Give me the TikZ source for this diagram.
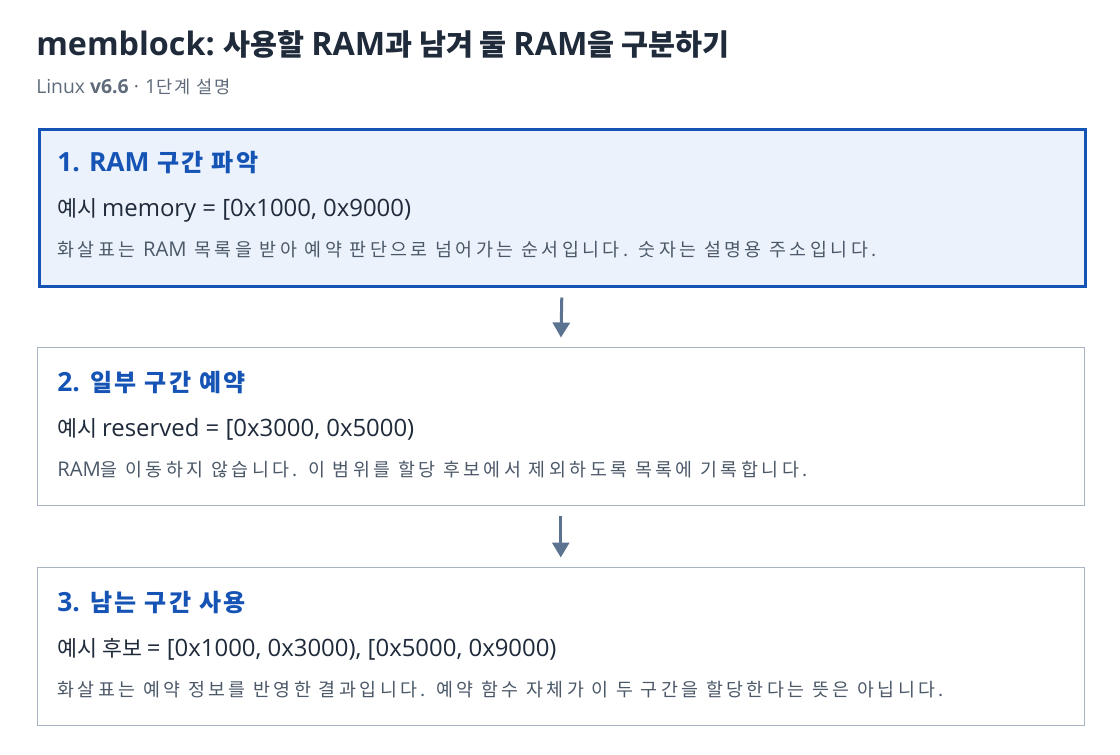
\documentclass[tikz,border=0pt]{standalone}
\usepackage{fontspec}
\setmainfont{Noto Sans CJK KR}
\newfontfamily\enfont{Open Sans}[Scale=1.1]
\newcommand{\en}[1]{{\enfont #1}}
\usetikzlibrary{arrows.meta}

\definecolor{inkdark}{HTML}{1F2A3A}
\definecolor{inkgray}{HTML}{5F6B7A}
\definecolor{inkdesc}{HTML}{4B5868}
\definecolor{stepblue}{HTML}{1553B5}
\definecolor{stepfill}{HTML}{EBF2FC}
\definecolor{cardline}{HTML}{A9B4C2}
\definecolor{flowline}{HTML}{5B7390}

\tikzset{
  card/.style={draw=cardline, line width=0.75pt, fill=white, anchor=north west,
    minimum width=1047.5*0.75pt, minimum height=158.5*0.75pt, inner sep=0pt},
  activecard/.style={card, draw=stepblue, fill=stepfill, line width=2.25pt,
    minimum width=1046*0.75pt, minimum height=157*0.75pt},
  steptitle/.style={anchor=base west, inner sep=0pt, text=stepblue,
    font=\fontsize{18}{21}\selectfont\bfseries\addfontfeatures{LetterSpace=10}},
  example/.style={anchor=base west, inner sep=0pt, text=inkdark,
    font=\fontsize{16.3}{19}\selectfont},
  note/.style={anchor=base west, inner sep=0pt, text=inkdesc,
    font=\fontsize{13.8}{16}\selectfont\addfontfeatures{LetterSpace=19}},
  flow/.style={draw=flowline, line width=2.25pt,
    -{Triangle[length=11.25pt, width=12.75pt]}, shorten <=7.5pt, shorten >=6.75pt}
}

\begin{document}
\begin{tikzpicture}[x=0.75pt, y=-0.75pt]
\useasboundingbox (0,0) rectangle (1120,754);

% Heading
\node (title) [anchor=base west, inner sep=0pt, text=inkdark,
  font=\fontsize{22}{26}\selectfont\bfseries] at (36,55)
  {\en{memblock:} 사용할 \en{RAM}과 남겨 둘 \en{RAM}을 구분하기};
\node (subtitle) [anchor=base west, inner sep=0pt, text=inkgray,
  font=\fontsize{13.2}{15}\selectfont\addfontfeatures{LetterSpace=12}] at (36,93)
  {\en{Linux \textbf{v6.6} ·} \en{1}단계 설명};

% Cards
\node (ram) [activecard] at (37.5,127.5) {};
\node (reserve) [card] at (36.5,346.5) {};
\node (free) [card] at (36.5,566.5) {};

% Step 1
\node (ramtitle) [steptitle] at (57,171) {\en{1. RAM} 구간 파악};
\node (ramexample) [example] at (57,216) {예시 \en{memory = [0x1000, 0x9000)}};
\node (ramnote) [note] at (57,256)
  {화살표는 \en{RAM} 목록을 받아 예약 판단으로 넘어가는 순서입니다. 숫자는 설명용 주소입니다.};

% Step 2
\node (reservetitle) [steptitle] at (57,391) {\en{2.} 일부 구간 예약};
\node (reserveexample) [example] at (57,436) {예시 \en{reserved = [0x3000, 0x5000)}};
\node (reservenote) [note] at (57,476)
  {\en{RAM}을 이동하지 않습니다. 이 범위를 할당 후보에서 제외하도록 목록에 기록합니다.};

% Step 3
\node (freetitle) [steptitle] at (57,611) {\en{3.} 남는 구간 사용};
\node (freeexample) [example] at (57,656) {예시 후보 \en{= [0x1000, 0x3000), [0x5000, 0x9000)}};
\node (freenote) [note] at (57,696)
  {화살표는 예약 정보를 반영한 결과입니다. 예약 함수 자체가 이 두 구간을 할당한다는 뜻은 아닙니다.};

% Arrows
\draw[flow] (ram.south) -- (reserve.north);
\draw[flow] (reserve.south) -- (free.north);
\end{tikzpicture}
\end{document}
